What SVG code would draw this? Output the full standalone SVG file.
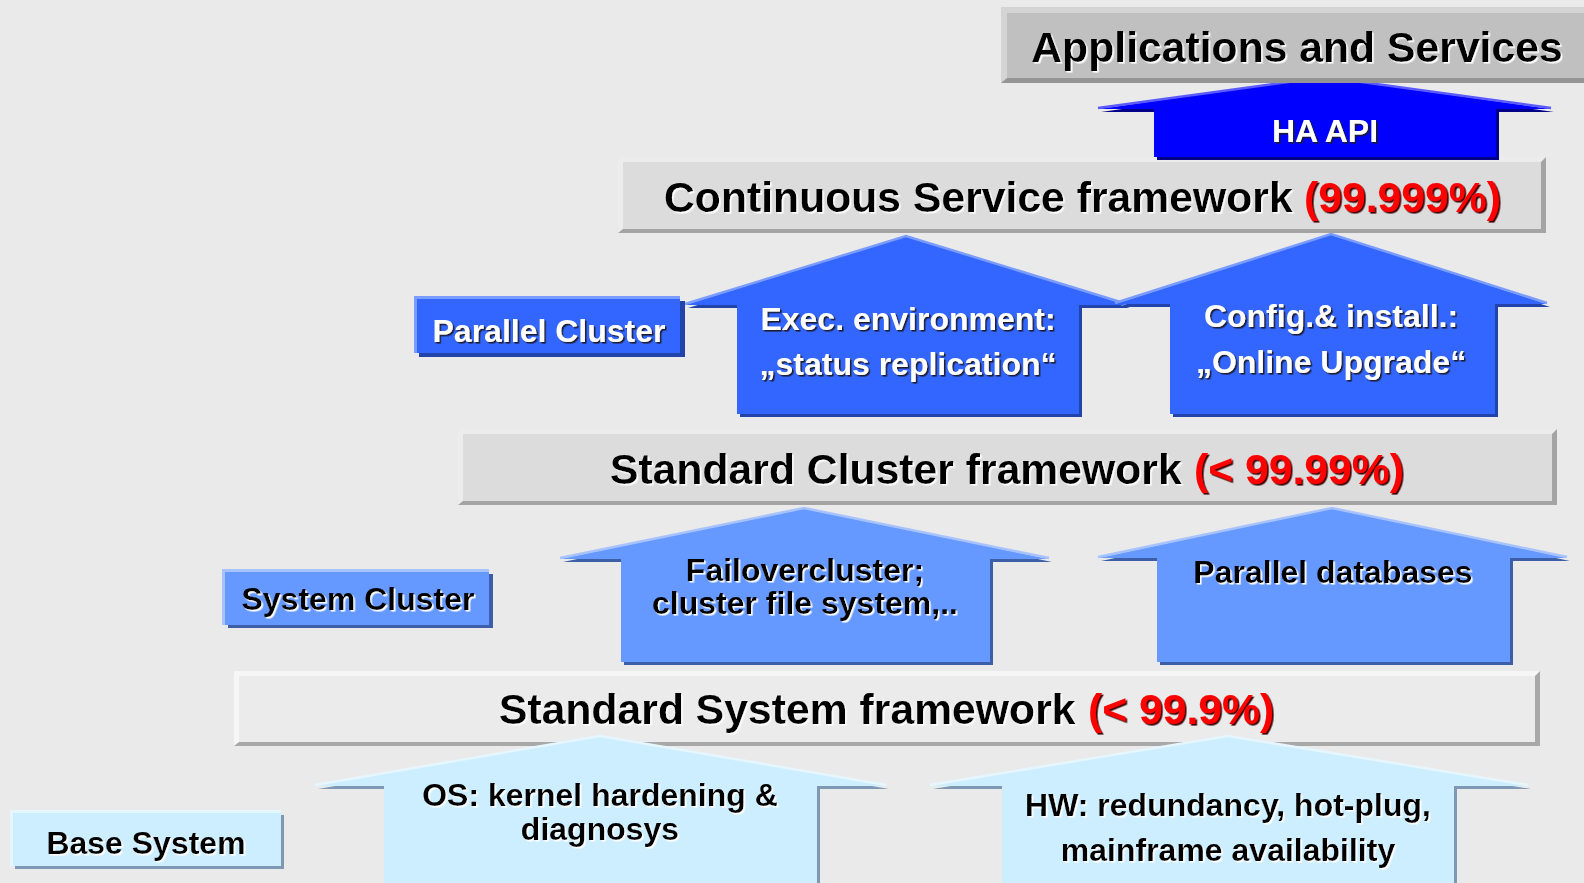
<svg xmlns="http://www.w3.org/2000/svg" width="1584" height="883" viewBox="0 0 1584 883">
<defs>
<style>
text{font-family:"Liberation Sans",Arial,"Noto Sans",sans-serif;font-weight:bold}
.big{font-size:42.7px}
.sm{font-size:32px}
.wt{fill:#ffffff;filter:url(#shD)}
.bt{fill:#000000;filter:url(#shW)}
.rt{fill:#ff0000;filter:url(#shR)}
.mid{text-anchor:middle}
.g1d{fill:#959595}.g1l{fill:#d4d4d4}.g1m{fill:#c0c0c0}
.g2d{fill:#a4a4a4}.g2l{fill:#ececec}.g2m{fill:#dcdcdc}
.g3d{fill:#a8a8a8}.g3l{fill:#f6f6f6}.g3m{fill:#ebebeb}
.ha-s{fill:#000088}.ha-m{fill:#0000ff}.ha-h{fill:none;stroke:#5a5aff;stroke-width:2.5}
.b1-s{fill:#2244aa}.b1-m{fill:#3366ff}.b1-h{fill:none;stroke:#7a9cff;stroke-width:2.5}
.b2-s{fill:#3d5fa8}.b2-m{fill:#6699ff}.b2-h{fill:none;stroke:#a6c2ff;stroke-width:2.5}
.b3-s{fill:#7f99b5}.b3-m{fill:#cceeff}.b3-h{fill:none;stroke:#e6f6ff;stroke-width:2.5}
</style>
<filter id="shW" x="-5%" y="-30%" width="110%" height="160%"><feDropShadow dx="1.6" dy="1.6" stdDeviation="0.2" flood-color="#ffffff"/></filter>
<filter id="shD" x="-5%" y="-30%" width="110%" height="160%"><feDropShadow dx="1.6" dy="1.6" stdDeviation="0.2" flood-color="#1a1a33"/></filter>
<filter id="shR" x="-5%" y="-30%" width="110%" height="160%"><feDropShadow dx="1.6" dy="1.6" stdDeviation="0.2" flood-color="#3a0000"/></filter>
</defs>
<rect x="0" y="0" width="1584" height="883" fill="#eaeaea"/>

<g id="connectors"></g>

<!-- Exec arrow -->
<g id="n-exec">
<polygon class="b1-s" transform="translate(3,3)" points="685,305 906,236 1127,305 1079,305 1079,414 737,414 737,305"/>
<polygon class="b1-m" points="685,305 906,236 1127,305 1079,305 1079,414 737,414 737,305"/>
<polyline class="b1-h" points="685,304 906,236 1127,304"/>
<text class="sm wt mid" x="908" y="330">Exec. environment:</text>
<text class="sm wt mid" x="908" y="375">„status replication“</text>
</g>

<!-- Config arrow -->
<g id="n-config">
<polygon class="b1-s" transform="translate(3,3)" points="1115,304 1331,234 1547,304 1495,304 1495,414 1170,414 1170,304"/>
<polygon class="b1-m" points="1115,304 1331,234 1547,304 1495,304 1495,414 1170,414 1170,304"/>
<polyline class="b1-h" points="1115,303 1331,234 1547,303"/>
<text class="sm wt mid" x="1331" y="327">Config.&amp; install.:</text>
<text class="sm wt mid" x="1331" y="373">„Online Upgrade“</text>
</g>

<!-- Parallel Cluster -->
<g id="n-parallel-cluster">
<rect class="b1-s" x="419" y="301" width="266" height="56"/>
<rect fill="#7a9cff" x="414" y="296" width="266" height="57"/>
<rect class="b1-m" x="417" y="299" width="263" height="54"/>
<text class="sm wt mid" x="549" y="342">Parallel Cluster</text>
</g>

<!-- Failover arrow -->
<g id="n-failover">
<polygon class="b2-s" transform="translate(3,3)" points="560,559 804,508 1049,559 990,559 990,662 621,662 621,559"/>
<polygon class="b2-m" points="560,559 804,508 1049,559 990,559 990,662 621,662 621,559"/>
<polyline class="b2-h" points="560,558 804,508 1049,558"/>
<text class="sm bt mid" x="805" y="581">Failovercluster;</text>
<text class="sm bt mid" x="805" y="614">cluster file system,..</text>
</g>

<!-- Parallel databases arrow -->
<g id="n-parallel-db">
<polygon class="b2-s" transform="translate(3,3)" points="1098,558 1332,508 1567,558 1510,558 1510,662 1157,662 1157,558"/>
<polygon class="b2-m" points="1098,558 1332,508 1567,558 1510,558 1510,662 1157,662 1157,558"/>
<polyline class="b2-h" points="1098,557 1332,508 1567,557"/>
<text class="sm bt mid" x="1333" y="583">Parallel databases</text>
</g>

<!-- System Cluster -->
<g id="n-system-cluster">
<rect class="b2-s" x="228" y="574" width="265" height="54"/>
<rect fill="#a6c2ff" x="222" y="569" width="267" height="56"/>
<rect class="b2-m" x="225" y="572" width="264" height="53"/>
<text class="sm bt mid" x="358" y="610">System Cluster</text>
</g>

<!-- Base System -->
<g id="n-base-system">
<rect class="b3-s" x="15" y="815" width="269" height="54"/>
<rect fill="#e6f6ff" x="10" y="810" width="271" height="56"/>
<rect class="b3-m" x="13" y="813" width="268" height="53"/>
<text class="sm bt mid" x="146" y="854">Base System</text>
</g>

<!-- Standard System framework -->
<g id="n-standard-system">
<rect class="g3d" x="234" y="671" width="1306" height="75"/>
<polygon class="g3l" points="234,671 1540,671 1535,676 239,676 239,742 234,746"/>
<rect class="g3m" x="239" y="676" width="1296" height="66"/>
<text class="big bt" x="499" y="724">Standard System framework</text>
<text class="big rt" x="1088" y="724">(&lt; 99.9%)</text>
</g>

<!-- OS arrow -->
<g id="n-os">
<polygon class="b3-s" transform="translate(3,3)" points="315,786 600,736 886,786 817,786 817,890 384,890 384,786"/>
<polygon class="b3-m" points="315,786 600,736 886,786 817,786 817,890 384,890 384,786"/>
<polyline class="b3-h" points="315,785 600,736 886,785"/>
<text class="sm bt mid" x="600" y="806">OS: kernel hardening &amp;</text>
<text class="sm bt mid" x="600" y="840">diagnosys</text>
</g>

<!-- HW arrow -->
<g id="n-hw">
<polygon class="b3-s" transform="translate(3,3)" points="930,786 1228,736 1528,786 1454,786 1454,890 1002,890 1002,786"/>
<polygon class="b3-m" points="930,786 1228,736 1528,786 1454,786 1454,890 1002,890 1002,786"/>
<polyline class="b3-h" points="930,785 1228,736 1528,785"/>
<text class="sm bt mid" x="1228" y="816">HW: redundancy, hot-plug,</text>
<text class="sm bt mid" x="1228" y="861">mainframe availability</text>
</g>

<!-- Standard Cluster framework -->
<g id="n-standard-cluster">
<rect class="g2d" x="458" y="429" width="1099" height="76"/>
<polygon class="g2l" points="458,429 1557,429 1552,434 463,434 463,501 458,505"/>
<rect class="g2m" x="463" y="434" width="1089" height="67"/>
<text class="big bt" x="610" y="484">Standard Cluster framework</text>
<text class="big rt" x="1194" y="484">(&lt; 99.99%)</text>
</g>

<!-- Continuous Service framework -->
<g id="n-continuous">
<rect class="g2d" x="618" y="157" width="928" height="76"/>
<polygon class="g2l" points="618,157 1546,157 1541,162 623,162 623,229 618,233"/>
<rect class="g2m" x="623" y="162" width="918" height="67"/>
<text class="big bt" x="664" y="212">Continuous Service framework</text>
<text class="big rt" x="1304" y="212">(99.999%)</text>
</g>

<!-- HA API arrow -->
<g id="n-ha-api">
<polygon class="ha-s" transform="translate(3,3)" points="1098,109 1325,77 1551,109 1496,109 1496,157 1154,157 1154,109"/>
<polygon class="ha-m" points="1098,109 1325,77 1551,109 1496,109 1496,157 1154,157 1154,109"/>
<polyline class="ha-h" points="1098,108 1325,77 1551,108"/>
<text class="sm wt mid" x="1325" y="142">HA API</text>
</g>

<!-- Applications and Services -->
<g id="n-applications">
<rect class="g1d" x="1001" y="7" width="590" height="76"/>
<polygon class="g1l" points="1001,7 1591,7 1591,13 1007,13 1007,78 1001,83"/>
<rect class="g1m" x="1007" y="13" width="584" height="65"/>
<text class="big bt mid" x="1297" y="62">Applications and Services</text>
</g>
</svg>
